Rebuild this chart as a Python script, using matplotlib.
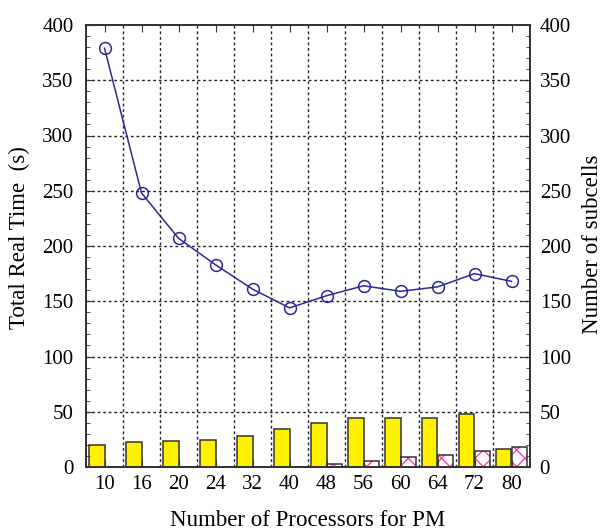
import matplotlib
matplotlib.use("Agg")
import matplotlib.pyplot as plt
import numpy as np

processors = ["10", "16", "20", "24", "32", "40", "48", "56", "60", "64", "72", "80"]
total_time = [379, 248, 207, 183, 161, 144, 155, 164, 159, 163, 175, 168]
subcells_a = [20.1, 22.2, 23.4, 24.6, 27.9, 34.5, 39.9, 44.7, 44.4, 44.4, 47.7, 16.5]
subcells_b = [0, 0, 0, 0, 0, 0, 2.7, 5.7, 9.0, 11.1, 14.4, 18.0]

plt.rcParams['font.family'] = ['Liberation Serif', 'DejaVu Serif']
plt.rcParams['hatch.linewidth'] = 1.0

fig = plt.figure(figsize=(6.05, 5.32), dpi=100)
ax = fig.add_axes([86/605, 65/532, 444/605, 442/532])
ax2 = ax.twinx()

x = np.arange(len(processors))
w = 0.42
edge = '#333333'
pink = '#ff3fae'

ax2.bar(x - w/2, subcells_a, width=w, color='#fff000', edgecolor=edge, linewidth=1.1, zorder=3)
ax2.bar(x + w/2, subcells_b, width=w, color='white', edgecolor=pink, hatch='xx',
        linewidth=0, zorder=3)
ax2.bar(x + w/2, subcells_b, width=w, color='none', edgecolor=edge, linewidth=1.1, zorder=4)

ax.set_zorder(ax2.get_zorder() + 1)
ax.patch.set_visible(False)
ax.plot(x, total_time, color='#2a2a96', lw=1.1, marker='o', markersize=8.5,
        markerfacecolor='none', markeredgecolor='#2a2a96', markeredgewidth=1.1, zorder=5)

for a in (ax, ax2):
    a.set_ylim(0, 400)
    a.set_xlim(-0.5, len(processors) - 0.5)
    a.set_yticks(np.arange(0, 401, 50))
    a.set_yticks(np.arange(0, 401, 10), minor=True)
    for s in a.spines.values():
        s.set_color(edge)
        s.set_linewidth(1.3)

ax.set_xticks(x)
ax.set_xticklabels(processors, fontsize=15)
ax.tick_params(axis='x', direction='in', top=True, bottom=True, length=5, pad=6, color=edge)
ax.tick_params(axis='y', which='major', direction='in', length=6, labelsize=15, color=edge, pad=9)
ax.tick_params(axis='y', which='minor', direction='in', length=3, color=edge)
ax2.tick_params(axis='y', which='major', direction='in', length=6, labelsize=15, color=edge, pad=7)
ax2.tick_params(axis='y', which='minor', direction='in', length=3, color=edge)

# grid
for b in np.arange(0.5, len(processors) - 0.5, 1.0):
    ax.axvline(b, color='#222222', lw=1.0, ls=(0, (2, 2)), zorder=1)
for yv in np.arange(50, 400, 50):
    ax.axhline(yv, color='#222222', lw=1.0, ls=(0, (2, 2)), zorder=1)

ax.set_xlabel("Number of Processors for PM", fontsize=16.5, va='baseline')
ax.xaxis.set_label_coords(0.5, -(526 - 467) / 442)
ax.set_ylabel("Total Real Time  (s)", fontsize=16.5, va='center')
ax.yaxis.set_label_coords((19 - 86) / 444, 0.52)
ax2.set_ylabel("Number of subcells", fontsize=16.5, va='center')
ax2.yaxis.set_label_coords((592 - 86) / 444, 0.505)

fig.savefig("out.png", dpi=100)
